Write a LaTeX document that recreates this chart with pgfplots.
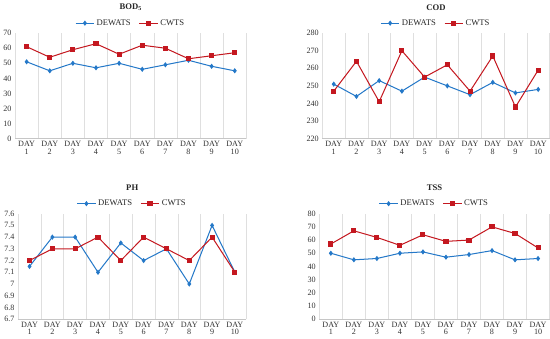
\documentclass[border=0pt]{standalone}
\usepackage{pgfplots}
\pgfplotsset{compat=1.18}
\usepackage{fontspec}
\setmainfont{Liberation Serif}
\definecolor{dblue}{RGB}{36,120,200}
\definecolor{dred}{RGB}{196,24,32}
\pgfplotsset{
  panel/.style={
    scale only axis, width=228pt, height=104pt,
    xmin=0.5, xmax=10.5,
    xtick={1,...,10},
    xticklabels={DAY\\1,DAY\\2,DAY\\3,DAY\\4,DAY\\5,DAY\\6,DAY\\7,DAY\\8,DAY\\9,DAY\\10},
    x tick label style={align=center, font=\fontsize{8}{7.5}\selectfont, text=black!80, yshift=1pt},
    y tick label style={font=\fontsize{8}{8}\selectfont, text=black!80},
    /pgf/number format/assume math mode=true,
    minor xtick={0.5,1.5,...,10.5},
    xminorgrids, minor grid style={gray!25, line width=0.6pt},
    major tick length=0pt, minor tick length=0pt,
    axis x line*=bottom, axis y line*=left,
    x axis line style={gray!45,-},
    y axis line style={draw=none},
    title style={font=\bfseries\fontsize{8.5}{8.5}\selectfont, text=black!85, yshift=13pt},
    legend style={at={(0.5,1.02)}, anchor=south, draw=none, fill=none,
      legend columns=2, font=\fontsize{8.5}{8.5}\selectfont, text=black!85,
      /tikz/every even column/.append style={column sep=6pt}},
    legend image code/.code={\draw[mark repeat=2,mark phase=2] plot coordinates {(0cm,0cm) (0.32cm,0cm) (0.64cm,0cm)};},
    clip=false,
  },
  dew/.style={dblue, line width=1pt, mark=diamond*, mark size=1.8pt, mark options={solid}},
  cw/.style={dred, line width=1pt, mark=square*, mark size=2pt, mark options={solid}},
}
\begin{document}
\begin{tikzpicture}
\begin{axis}[panel, at={(18pt,203pt)}, ymin=0, ymax=70, ytick={0,10,...,70}, title={BOD$_{\mathbf{5}}$}]
\addplot[dew] coordinates {(1,51)(2,45)(3,50)(4,47)(5,50)(6,46)(7,49)(8,52)(9,48)(10,45)};
\addplot[cw] coordinates {(1,61)(2,54)(3,59)(4,63)(5,56)(6,62)(7,60)(8,53)(9,55)(10,57)};
\legend{DEWATS,CWTS}
\end{axis}
\begin{axis}[panel, at={(321pt,203pt)}, width=224pt, ymin=220, ymax=280, ytick={220,230,...,280}, title={COD}]
\addplot[dew] coordinates {(1,251)(2,244)(3,253)(4,247)(5,255)(6,250)(7,245)(8,252)(9,246)(10,248)};
\addplot[cw] coordinates {(1,247)(2,264)(3,241)(4,270)(5,255)(6,262)(7,247)(8,267)(9,238)(10,259)};
\legend{DEWATS,CWTS}
\end{axis}
\begin{axis}[panel, at={(21pt,25pt)}, width=225pt, ymin=6.7, ymax=7.6, ytick={6.7,6.8,...,7.61}, yticklabels={6.7,6.8,6.9,7,7.1,7.2,7.3,7.4,7.5,7.6}, title={PH}]
\addplot[dew] coordinates {(1,7.15)(2,7.4)(3,7.4)(4,7.1)(5,7.35)(6,7.2)(7,7.3)(8,7.0)(9,7.5)(10,7.1)};
\addplot[cw] coordinates {(1,7.2)(2,7.3)(3,7.3)(4,7.4)(5,7.2)(6,7.4)(7,7.3)(8,7.2)(9,7.4)(10,7.1)};
\legend{DEWATS,CWTS}
\end{axis}
\begin{axis}[panel, at={(318pt,25pt)}, width=227pt, ymin=0, ymax=80, ytick={0,10,...,80}, title={TSS}]
\addplot[dew] coordinates {(1,50)(2,45)(3,46)(4,50)(5,51)(6,47)(7,49)(8,52)(9,45)(10,46)};
\addplot[cw] coordinates {(1,57)(2,67)(3,62)(4,56)(5,64)(6,59)(7,60)(8,70)(9,65)(10,54)};
\legend{DEWATS,CWTS}
\end{axis}
\end{tikzpicture}
\end{document}
